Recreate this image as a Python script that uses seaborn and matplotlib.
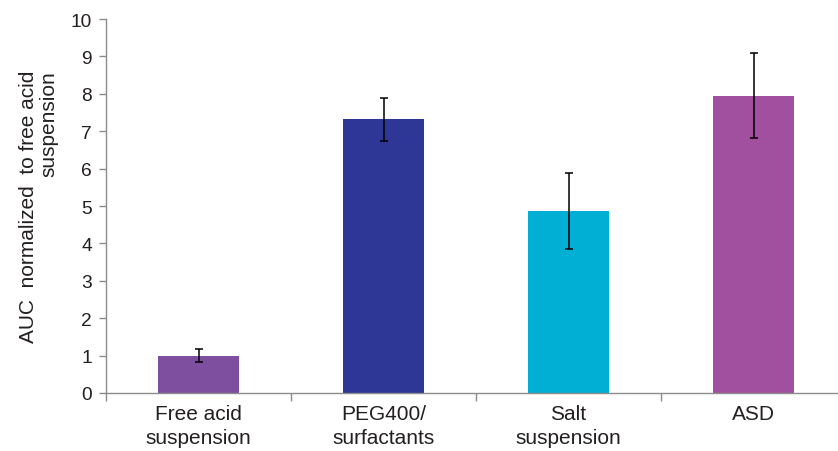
import matplotlib
matplotlib.use("Agg")
import matplotlib.pyplot as plt
import seaborn as sns
import pandas as pd
import numpy as np

categories = ["Free acid\nsuspension", "PEG400/\nsurfactants", "Salt\nsuspension", "ASD"]
auc_mean = [1.00, 7.33, 4.87, 7.94]
err_low = [0.16, 0.58, 1.03, 1.13]
err_high = [0.18, 0.56, 1.02, 1.14]
bar_colors = ["#7F4F9F", "#2E3795", "#00AFD3", "#A0509E"]
y_ticks = list(range(0, 11))

sns.set_theme(style="white")
plt.rcParams["font.family"] = ["Liberation Sans", "DejaVu Sans"]

df = pd.DataFrame({"formulation": categories, "auc": auc_mean})

fig = plt.figure(figsize=(8.38, 4.52), dpi=100)
ax = fig.add_axes([106 / 838, 58 / 452, 740 / 838, 374 / 452])

sns.barplot(data=df, x="formulation", y="auc", hue="formulation",
            palette=bar_colors, order=categories, hue_order=categories,
            width=0.44, legend=False, errorbar=None, saturation=1,
            linewidth=0, ax=ax)

xpos = np.arange(len(categories))
ax.errorbar(xpos, auc_mean, yerr=[err_low, err_high], fmt="none",
            ecolor="black", elinewidth=1.1, capsize=3, capthick=1.1, zorder=5)

ax.set_xlim(-0.5, len(categories) - 0.5)
ax.set_ylim(0, 10)
ax.set_yticks(y_ticks)
ax.set_yticklabels([str(t) for t in y_ticks], fontsize=13.8, color="#231F20")

# category labels centred on bars, tick marks sit between categories
ax.set_xticks(xpos)
ax.set_xticklabels(categories, fontsize=15, color="#231F20", linespacing=1.3)
ax.set_xticks(np.arange(-0.5, len(categories) - 0.4, 1.0), minor=True)
ax.tick_params(axis="x", which="major", length=0, pad=8)
ax.tick_params(axis="x", which="minor", length=6, width=1, color="#8C8C8C", direction="out", bottom=True)
ax.tick_params(axis="y", length=5, width=1, color="#8C8C8C", direction="out", left=True, pad=5)

ax.set_xlabel("")
ax.set_ylabel("AUC  normalized  to free acid\nsuspension", fontsize=15,
              color="#231F20", linespacing=1.1, labelpad=9,
              multialignment="right")

for side in ["top", "right"]:
    ax.spines[side].set_visible(False)
for side in ["left", "bottom"]:
    ax.spines[side].set_color("#8C8C8C")
    ax.spines[side].set_linewidth(1)

ax.grid(False)
fig.savefig("out.png", dpi=100, facecolor="white")
